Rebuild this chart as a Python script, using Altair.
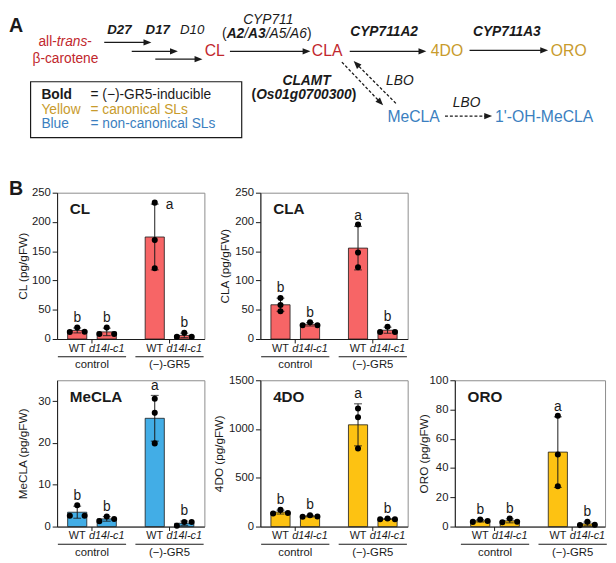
import altair as alt
import numpy as np
import pandas as pd

FONT = "Liberation Sans"
INK = "#1a1a1a"
BAR_RED, BAR_BLUE, BAR_YELLOW = "#f76566", "#42ade6", "#fdc212"
T_RED, T_YEL, T_BLUE = "#c1272d", "#c89b2c", "#3b7fc0"

# ---------------- panel B data ----------------
treatments = ["control", "control", "(−)-GR5", "(−)-GR5"]
genotypes = ["WT", "d14l-c1", "WT", "d14l-c1"]
treat_order = ["control", "(−)-GR5"]

cl_values = [[12, 19.5, 12.5], [8.5, 19.5, 8.5], [233, 169, 121], [4, 10.5, 4]]
cla_values = [[70, 58, 47.5], [23.5, 28.5, 23.5], [195.8, 147.7, 122.5], [12, 21, 12]]
mecla_values = [[2.6, 5.1, 2.6], [1.3, 2.4, 1.8], [30.6, 27.2, 19.9], [0.2, 1.1, 1.1]]
fourdo_values = [[134, 171, 140], [101, 116, 104], [1210, 1120, 800], [75, 82, 76]]
oro_values = [[3.2, 4.8, 3.8], [3.0, 5.5, 3.3], [75.8, 49.3, 27.6], [1.0, 3.3, 1.2]]

letters_all = ["b", "b", "a", "b"]
# whether replicate dots are spread left/centre/right (True) or stacked at centre (False)
cl_spread = [True, True, False, True]
cla_spread = [False, True, False, True]
mecla_spread = [True, True, False, True]
fourdo_spread = [True, True, False, True]
oro_spread = [True, True, False, True]

slots = ["WT_1", "WT_2", "WT_3", "gap", "d14l-c1_1", "d14l-c1_2", "d14l-c1_3"]


def panel(name, values, spread, ymax, ticks, color, title_x, width=150, height=149,
          anchor_x=-49, show_b=False, pad_outer=0.05, x_align=0.5):
    pts, summ = [], []
    for i in range(4):
        reps = values[i]
        for j, v in enumerate(reps):
            k = j + 1 if spread[i] else 2
            pts.append({"treatment": treatments[i], "slot": f"{genotypes[i]}_{k}", "value": v})
        m = float(np.mean(reps))
        s = float(np.std(reps, ddof=1))
        summ.append({"treatment": treatments[i], "genotype": genotypes[i],
                     "slot": f"{genotypes[i]}_2", "mean": m, "lo": m - s, "hi": m + s,
                     "letter": letters_all[i], "side": bool((m + s) > 0.9 * ymax)})
    pts = pd.DataFrame(pts)
    summ = pd.DataFrame(summ)

    xax = alt.Axis(title=None, labelAngle=0, labelPadding=16, tickSize=4, labelFontSize=11.5,
                   labelColor=INK, domainColor=INK, tickColor=INK, labelFont=FONT)
    X = alt.X("treatment:N", axis=xax,
              scale=alt.Scale(domain=treat_order, paddingInner=0.2, paddingOuter=pad_outer, align=x_align))
    XO = alt.XOffset("slot:N", scale=alt.Scale(domain=slots, paddingInner=0, paddingOuter=0.7))
    ys = alt.Scale(domain=[0, ymax], nice=False, zero=True)
    yax = alt.Axis(values=ticks, format="d", title=f"{name} (pg/gFW)", titleX=title_x,
                   titleY=height / 2, titleBaseline="middle", titleFontSize=12,
                   titleFontWeight="normal", titleColor=INK, titleFont=FONT,
                   labelFontSize=11.5, labelColor=INK, labelPadding=2, tickSize=5,
                   domainColor=INK, tickColor=INK, labelFont=FONT)

    def Y(f):
        return alt.Y(f, scale=ys, axis=yax)

    base = alt.Chart(summ)
    bars = base.mark_bar(width=19.5, color=color, stroke=INK, strokeWidth=0.8).encode(
        x=X, xOffset=XO, y=Y("mean:Q"))
    err = base.mark_rule(color=INK, strokeWidth=1).encode(x=X, xOffset=XO, y=Y("lo:Q"), y2="hi:Q")
    cap_lo = base.mark_tick(color=INK, thickness=1.2, size=8).encode(x=X, xOffset=XO, y=Y("lo:Q"))
    cap_hi = base.mark_tick(color=INK, thickness=1.2, size=8).encode(x=X, xOffset=XO, y=Y("hi:Q"))
    dots = alt.Chart(pts).mark_circle(size=38, color="black", opacity=1).encode(
        x=X, xOffset=XO, y=Y("value:Q"))
    let_top = base.transform_filter("!datum.side").mark_text(
        fontSize=14, baseline="bottom", dy=-3, color=INK, font=FONT).encode(
        x=X, xOffset=XO, y=Y("hi:Q"), text="letter:N")
    let_side = base.transform_filter("datum.side").mark_text(
        fontSize=14, baseline="middle", dx=15, dy=1, color=INK, font=FONT).encode(
        x=X, xOffset=XO, y=Y("hi:Q"), text="letter:N")
    title = alt.Chart(pd.DataFrame({"t": [name]})).mark_text(
        align="left", baseline="middle", fontSize=15.5, fontWeight="bold", color=INK, font=FONT
    ).encode(x=alt.value(13), y=alt.value(17), text="t:N")
    lab_wt = base.transform_filter("datum.genotype == 'WT'").mark_text(
        fontSize=11, baseline="middle", color=INK, font=FONT).encode(
        x=X, xOffset=XO, y=alt.value(height + 10), text="genotype:N")
    lab_mut = base.transform_filter("datum.genotype != 'WT'").mark_text(
        fontSize=11, baseline="middle", fontStyle="italic", color=INK, font=FONT).encode(
        x=X, xOffset=XO, y=alt.value(height + 10), text="genotype:N")
    under = alt.Chart(pd.DataFrame({"treatment": treat_order})).mark_bar(
        width=alt.RelativeBandSize(1.1), color=INK).encode(
        x=X, y=alt.value(height + 17.5), y2=alt.value(height + 18.6))
    anchor = alt.Chart(pd.DataFrame({"t": ["B"]})).mark_text(
        align="left", baseline="middle", fontSize=20, fontWeight="bold", color=INK, font=FONT,
        opacity=1 if show_b else 0).encode(
        x=alt.value(anchor_x), y=alt.value(-4 if show_b else 75), text="t:N")
    return alt.layer(bars, err, cap_lo, cap_hi, dots, let_top, let_side, title,
                     lab_wt, lab_mut, under, anchor).properties(width=width, height=height)


cl = panel("CL", cl_values, cl_spread, 250, [0, 50, 100, 150, 200, 250], BAR_RED, -35,
           anchor_x=-49, show_b=True)
cla = panel("CLA", cla_values, cla_spread, 250, [0, 50, 100, 150, 200, 250], BAR_RED, -36,
            anchor_x=-55)
mecla = panel("MeCLA", mecla_values, mecla_spread, 35, [0, 10, 20, 30], BAR_BLUE, -35,
              anchor_x=-45)
fourdo = panel("4DO", fourdo_values, fourdo_spread, 1500, [0, 500, 1000, 1500], BAR_YELLOW, -43,
               anchor_x=-55)
oro = panel("ORO", oro_values, oro_spread, 100, [0, 20, 40, 60, 80, 100], BAR_YELLOW, -32,
            width=153, anchor_x=-46, pad_outer=0.068, x_align=0.87)

# ---------------- panel A: pathway diagram (page-pixel layout) ----------------
DIAG_W, DIAG_H = 551, 165
X0, Y0 = 57, 8

diagram_labels = [
    # text, x, y, style, colour
    ("A", 8, 21, "panel", INK),
    ("all-", 38, 38, "l_n", T_RED),
    ("trans", 56.7, 38, "l_i", T_RED),
    ("-", 87.8, 38, "l_n", T_RED),
    ("β-carotene", 65.5, 55, "c_n14", T_RED),
    ("D27", 120.5, 25, "c_bi13", INK),
    ("D17", 159.5, 25, "c_bi13", INK),
    ("D10", 194.5, 25, "c_i13", INK),
    ("CL", 217.5, 47, "cmp", T_RED),
    ("CYP711", 272, 15, "c_i", INK),
    ("(", 225, 29, "l_n", INK),
    ("A2", 229.7, 29, "l_bi", INK),
    ("/", 247.6, 29, "l_i", INK),
    ("A3", 251.5, 29, "l_bi", INK),
    ("/A5/A6", 269.4, 29, "l_i", INK),
    (")", 311.4, 29, "l_n", INK),
    ("CLA", 332, 47, "cmp", T_RED),
    ("CYP711A2", 390, 27, "c_bi", INK),
    ("4DO", 454, 47, "cmp", T_YEL),
    ("CYP711A3", 515, 27, "c_bi", INK),
    ("ORO", 578, 47, "cmp", T_YEL),
    ("CLAMT", 311, 77, "c_bi", INK),
    ("(", 255, 92, "l_b", INK),
    ("Os01g0700300", 259.7, 92, "l_bi", INK),
    (")", 357, 92, "l_b", INK),
    ("LBO", 406, 77, "c_i", INK),
    ("MeCLA", 420, 114, "cmp", T_BLUE),
    ("LBO", 474, 100, "c_i", INK),
    ("1'-OH-MeCLA", 553, 114, "cmp", T_BLUE),
    ("Bold", 41, 92, "leg_b", INK),
    ("= (−)-GR5-inducible", 91, 92, "leg", INK),
    ("Yellow", 41, 106.5, "leg", T_YEL),
    ("= canonical SLs", 91, 106.5, "leg", T_YEL),
    ("Blue", 41, 121, "leg", T_BLUE),
    ("= non-canonical SLs", 91, 121, "leg", T_BLUE),
]
text_styles = {
    "panel": dict(fontSize=20, fontWeight="bold", align="left"),
    "l_n": dict(fontSize=14, align="left"),
    "l_i": dict(fontSize=14, fontStyle="italic", align="left"),
    "l_b": dict(fontSize=14, fontWeight="bold", align="left"),
    "l_bi": dict(fontSize=14, fontStyle="italic", fontWeight="bold", align="left"),
    "c_n14": dict(fontSize=14, align="center"),
    "c_bi13": dict(fontSize=13.5, fontStyle="italic", fontWeight="bold", align="center"),
    "c_i13": dict(fontSize=13.5, fontStyle="italic", align="center"),
    "c_i": dict(fontSize=14, fontStyle="italic", align="center"),
    "c_bi": dict(fontSize=14, fontStyle="italic", fontWeight="bold", align="center"),
    "cmp": dict(fontSize=16, align="center"),
    "leg_b": dict(fontSize=14, fontWeight="bold", align="left"),
    "leg": dict(fontSize=14, align="left"),
}
arrows = [  # x1, y1, x2, y2, dashed
    (105, 38, 153, 38, False),
    (133, 47, 180, 47, False),
    (157, 55, 205, 55, False),
    (233, 47, 315, 47, False),
    (355, 47, 433, 47, False),
    (477, 46, 557, 46, False),
    (347, 58, 389, 102, True),
    (402, 100, 359, 57, True),
    (452, 113, 500, 113, True),
]
legend_box = (30, 78, 245, 135)

dxs = alt.Scale(domain=[X0, X0 + DIAG_W], nice=False, zero=False)
dys = alt.Scale(domain=[Y0 + DIAG_H, Y0], nice=False, zero=False)

lab_df = pd.DataFrame(diagram_labels, columns=["text", "x", "y", "style", "color"])
d_layers = []
box_df = pd.DataFrame([legend_box], columns=["x1", "y1", "x2", "y2"])
d_layers.append(alt.Chart(box_df).mark_rect(fill="white", stroke=INK, strokeWidth=1.2).encode(
    x=alt.X("x1:Q", scale=dxs, axis=None), x2="x2:Q",
    y=alt.Y("y1:Q", scale=dys, axis=None), y2="y2:Q"))

line_rows, head_rows = [], []
for x1, y1, x2, y2, dashed in arrows:
    L = float(np.hypot(x2 - x1, y2 - y1))
    ux, uy = (x2 - x1) / L, (y2 - y1) / L
    line_rows.append({"x1": x1, "y1": y1, "x2": x2 - 6 * ux, "y2": y2 - 6 * uy, "dashed": dashed})
    head_rows.append({"x": x2 - 4 * ux, "y": y2 - 4 * uy,
                      "angle": float(np.degrees(np.arctan2(uy, ux)) % 360)})
line_df = pd.DataFrame(line_rows)
head_df = pd.DataFrame(head_rows)
for dashed in (False, True):
    kw = dict(color=INK, strokeWidth=1.3)
    if dashed:
        kw["strokeDash"] = [3, 2]
    d_layers.append(alt.Chart(line_df[line_df.dashed == dashed]).mark_rule(**kw).encode(
        x=alt.X("x1:Q", scale=dxs, axis=None), x2="x2:Q",
        y=alt.Y("y1:Q", scale=dys, axis=None), y2="y2:Q"))
d_layers.append(alt.Chart(head_df).mark_point(
    shape="M-1,-0.8L1,0L-1,0.8Z", filled=True, size=64, color=INK, opacity=1).encode(
    x=alt.X("x:Q", scale=dxs, axis=None), y=alt.Y("y:Q", scale=dys, axis=None),
    angle=alt.Angle("angle:Q", scale=None)))
for st, kw in text_styles.items():
    sub = lab_df[lab_df["style"] == st]
    d_layers.append(alt.Chart(sub).mark_text(baseline="middle", font=FONT, **kw).encode(
        x=alt.X("x:Q", scale=dxs, axis=None), y=alt.Y("y:Q", scale=dys, axis=None),
        text="text:N", color=alt.Color("color:N", scale=None)))

diagram = alt.layer(*d_layers).properties(width=DIAG_W, height=DIAG_H,
                                           view=alt.ViewBackground(stroke=None))

row1 = alt.hconcat(cl, cla, spacing=0)
row2 = alt.hconcat(mecla, fourdo, oro, spacing=0)
chart = (alt.vconcat(diagram, row1, row2, spacing=3)
         .properties(padding=0)
         .configure(font=FONT)
         .configure_view(stroke="#8c8c8c", strokeWidth=1)
         .configure_axis(grid=False))

chart.save("out.html", embed_options={"renderer": "svg", "actions": False})
